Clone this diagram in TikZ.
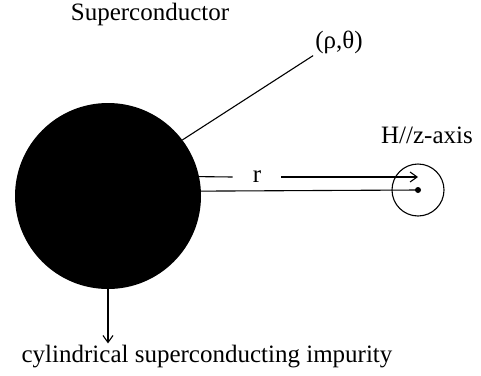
\documentclass[tikz,border=0pt]{standalone}
\usepackage{fontspec}
\setmainfont{Liberation Serif}
\usetikzlibrary{arrows.meta,positioning}
\begin{document}
\begin{tikzpicture}[
  x=1pt, y=-1pt,
  every node/.style={font=\fontsize{25}{29}\selectfont},
  txt/.style={inner sep=2pt},
  line/.style={line width=1.1pt},
  arrow/.style={-{Straight Barb[length=7pt,width=10pt]}, line width=1.1pt}
]
\useasboundingbox (0,0) rectangle (481,375);
% impurity and the point where the field is taken
\node[circle, fill=black, minimum size=186pt, inner sep=0pt] (imp) at (108,196) {};
\node[circle, draw, line width=1.1pt, minimum size=52pt, inner sep=0pt] (vortex) at (418,190) {};
\fill (vortex.center) circle (3pt);
\coordinate (dot) at (vortex.center);
% labels
\node[txt] (sc) at (150,14) {Superconductor};
\node[txt] (pos) at (339,42) {(ρ,θ)};
\node[txt] (field) at (427,135) {H//z-axis};
\node[txt, inner xsep=20pt] (rlab) at (257,177) {r};
\node[txt] (cap) at (207,357) {cylindrical superconducting impurity};
% connectors
\draw[line] (imp.37) -- (pos.south west);
\draw[line] (imp.12) -- (rlab.west);
\draw[arrow] (rlab.east) -- (rlab.east -| dot);
\draw[line] (imp.3) -- (dot);
\draw[arrow] (imp.south) -- (imp.south |- cap.north);
\end{tikzpicture}
\end{document}
